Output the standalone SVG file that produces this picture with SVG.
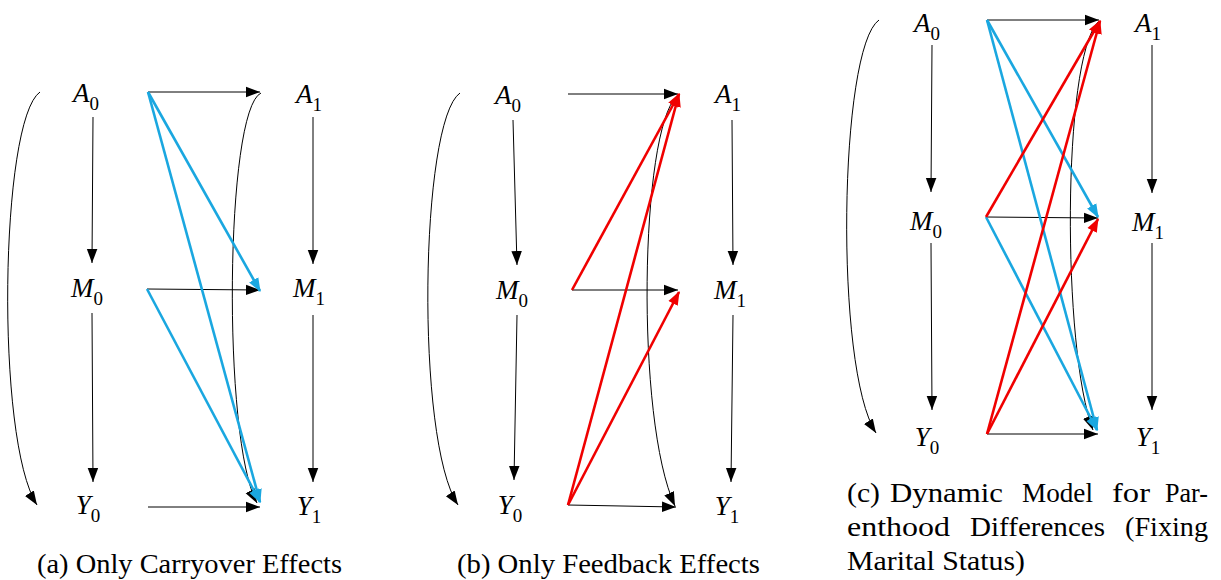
<svg xmlns="http://www.w3.org/2000/svg" width="1221" height="580" viewBox="0 0 1221 580">
<style>
.lbl{font-family:"Liberation Serif","Times New Roman",serif;font-size:27px;fill:#000}
.var{font-style:italic}
.sub{font-size:19px;font-style:normal}
.cap{font-family:"Liberation Serif","Times New Roman",serif;font-size:27px;fill:#000}
.k{fill:none;stroke:#000;stroke-width:1}
.b{fill:none;stroke:#1AA7E0;stroke-width:2.6}
.r{fill:none;stroke:#F00000;stroke-width:2.6}
.ka{marker-end:url(#mk)}
.ba{marker-end:url(#mb)}
.ra{marker-end:url(#mr)}
</style>
<defs>
<marker id="mk" markerUnits="userSpaceOnUse" markerWidth="14" markerHeight="12" viewBox="0 0 12 10" refX="12" refY="5" orient="auto"><path d="M0,0.5 L12,5 L0,9.5 z" fill="#000"/></marker>
<marker id="mb" markerUnits="userSpaceOnUse" markerWidth="14" markerHeight="12" viewBox="0 0 12 10" refX="11" refY="5" orient="auto"><path d="M0,0.5 L12,5 L0,9.5 z" fill="#1AA7E0"/></marker>
<marker id="mr" markerUnits="userSpaceOnUse" markerWidth="14" markerHeight="12" viewBox="0 0 12 10" refX="11" refY="5" orient="auto"><path d="M0,0.5 L12,5 L0,9.5 z" fill="#F00000"/></marker>
</defs>

<!-- Panel (a) -->
<g id="panel-a">
<g id="a-A0"><text class="lbl" x="86" y="102" text-anchor="middle"><tspan class="var">A</tspan><tspan class="sub" dy="8">0</tspan></text></g>
<g id="a-M0"><text class="lbl" x="87" y="297" text-anchor="middle"><tspan class="var">M</tspan><tspan class="sub" dy="8">0</tspan></text></g>
<g id="a-Y0"><text class="lbl" x="88" y="514" text-anchor="middle"><tspan class="var">Y</tspan><tspan class="sub" dy="8">0</tspan></text></g>
<g id="a-A1"><text class="lbl" x="309" y="103" text-anchor="middle"><tspan class="var">A</tspan><tspan class="sub" dy="8">1</tspan></text></g>
<g id="a-M1"><text class="lbl" x="309" y="297" text-anchor="middle"><tspan class="var">M</tspan><tspan class="sub" dy="8">1</tspan></text></g>
<g id="a-Y1"><text class="lbl" x="309" y="515" text-anchor="middle"><tspan class="var">Y</tspan><tspan class="sub" dy="8">1</tspan></text></g>
<g id="a-connectors">
<line class="k ka" x1="93" y1="117" x2="92" y2="263"/>
<line class="k ka" x1="92" y1="313" x2="93" y2="482"/>
<line class="k ka" x1="313" y1="117" x2="313" y2="264"/>
<line class="k ka" x1="313" y1="315" x2="313" y2="482"/>
<line class="k ka" x1="148" y1="92" x2="260" y2="92"/>
<line class="k ka" x1="147" y1="289" x2="260" y2="290"/>
<line class="k ka" x1="148" y1="507" x2="260" y2="507"/>
<path class="k ka" d="M40,92 C0,120 -5,440 37,505"/>
<path class="k ka" d="M261,93 C225,110 222,440 257,503"/>
<line class="b ba" x1="148" y1="92" x2="260" y2="291"/>
<line class="b ba" x1="148" y1="92" x2="260" y2="502"/>
<line class="b ba" x1="147" y1="289" x2="260" y2="502"/>
</g>
<text class="cap" x="37" y="573" textLength="305" lengthAdjust="spacingAndGlyphs">(a) Only Carryover Effects</text>
</g>

<!-- Panel (b) -->
<g id="panel-b">
<g id="b-A0"><text class="lbl" x="508" y="104" text-anchor="middle"><tspan class="var">A</tspan><tspan class="sub" dy="8">0</tspan></text></g>
<g id="b-M0"><text class="lbl" x="512" y="299" text-anchor="middle"><tspan class="var">M</tspan><tspan class="sub" dy="8">0</tspan></text></g>
<g id="b-Y0"><text class="lbl" x="510" y="514" text-anchor="middle"><tspan class="var">Y</tspan><tspan class="sub" dy="8">0</tspan></text></g>
<g id="b-A1"><text class="lbl" x="728" y="103" text-anchor="middle"><tspan class="var">A</tspan><tspan class="sub" dy="8">1</tspan></text></g>
<g id="b-M1"><text class="lbl" x="730" y="299" text-anchor="middle"><tspan class="var">M</tspan><tspan class="sub" dy="8">1</tspan></text></g>
<g id="b-Y1"><text class="lbl" x="727" y="515" text-anchor="middle"><tspan class="var">Y</tspan><tspan class="sub" dy="8">1</tspan></text></g>
<g id="b-connectors">
<line class="k ka" x1="513" y1="120" x2="517" y2="265"/>
<line class="k ka" x1="517" y1="315" x2="514" y2="480"/>
<line class="k ka" x1="732" y1="120" x2="733" y2="265"/>
<line class="k ka" x1="733" y1="315" x2="731" y2="482"/>
<line class="k ka" x1="568" y1="94" x2="678" y2="94"/>
<line class="k ka" x1="572" y1="290" x2="678" y2="290"/>
<line class="k ka" x1="568" y1="505" x2="676" y2="507"/>
<path class="k ka" d="M460,93 C420,121 415,440 458,505"/>
<path class="k ka" d="M677,96 C640,130 635,420 675,506"/>
<line class="r ra" x1="572" y1="290" x2="679" y2="94"/>
<line class="r ra" x1="568" y1="505" x2="679" y2="94"/>
<line class="r ra" x1="568" y1="505" x2="679" y2="292"/>
</g>
<text class="cap" x="457" y="573" textLength="303" lengthAdjust="spacingAndGlyphs">(b) Only Feedback Effects</text>
</g>

<!-- Panel (c) -->
<g id="panel-c">
<g id="c-A0"><text class="lbl" x="927" y="32" text-anchor="middle"><tspan class="var">A</tspan><tspan class="sub" dy="8">0</tspan></text></g>
<g id="c-M0"><text class="lbl" x="926" y="230" text-anchor="middle"><tspan class="var">M</tspan><tspan class="sub" dy="8">0</tspan></text></g>
<g id="c-Y0"><text class="lbl" x="927" y="446" text-anchor="middle"><tspan class="var">Y</tspan><tspan class="sub" dy="8">0</tspan></text></g>
<g id="c-A1"><text class="lbl" x="1148" y="32" text-anchor="middle"><tspan class="var">A</tspan><tspan class="sub" dy="8">1</tspan></text></g>
<g id="c-M1"><text class="lbl" x="1148" y="231" text-anchor="middle"><tspan class="var">M</tspan><tspan class="sub" dy="8">1</tspan></text></g>
<g id="c-Y1"><text class="lbl" x="1148" y="446" text-anchor="middle"><tspan class="var">Y</tspan><tspan class="sub" dy="8">1</tspan></text></g>
<g id="c-connectors">
<line class="k ka" x1="932" y1="45" x2="931" y2="192"/>
<line class="k ka" x1="931" y1="243" x2="932" y2="410"/>
<line class="k ka" x1="1152" y1="45" x2="1152" y2="193"/>
<line class="k ka" x1="1152" y1="243" x2="1152" y2="410"/>
<line class="k ka" x1="987" y1="20" x2="1099" y2="20"/>
<line class="k ka" x1="986" y1="217" x2="1098" y2="218"/>
<line class="k ka" x1="987" y1="434" x2="1098" y2="434"/>
<path class="k ka" d="M879,20 C839,48 834,368 876,433"/>
<path class="k ka" d="M1098,22 C1062,60 1062,350 1093,430"/>
<line class="b ba" x1="987" y1="20" x2="1098" y2="217"/>
<line class="b ba" x1="987" y1="20" x2="1097" y2="430"/>
<line class="b ba" x1="986" y1="217" x2="1097" y2="430"/>
<line class="r ra" x1="986" y1="217" x2="1100" y2="21"/>
<line class="r ra" x1="987" y1="434" x2="1100" y2="21"/>
<line class="r ra" x1="987" y1="434" x2="1098" y2="219"/>
</g>
<g id="c-caption" class="cap">
<text x="847" y="502" textLength="33" lengthAdjust="spacingAndGlyphs">(c)</text>
<text x="890" y="502" textLength="113" lengthAdjust="spacingAndGlyphs">Dynamic</text>
<text x="1022" y="502" textLength="71" lengthAdjust="spacingAndGlyphs">Model</text>
<text x="1112" y="502" textLength="38" lengthAdjust="spacingAndGlyphs">for</text>
<text x="1165" y="502" textLength="43" lengthAdjust="spacingAndGlyphs">Par-</text>
<text x="847" y="536" textLength="103" lengthAdjust="spacingAndGlyphs">enthood</text>
<text x="970" y="536" textLength="135" lengthAdjust="spacingAndGlyphs">Differences</text>
<text x="1125" y="536" textLength="83" lengthAdjust="spacingAndGlyphs">(Fixing</text>
<text x="847" y="570" textLength="178" lengthAdjust="spacingAndGlyphs">Marital Status)</text>
</g>
</g>
</svg>
